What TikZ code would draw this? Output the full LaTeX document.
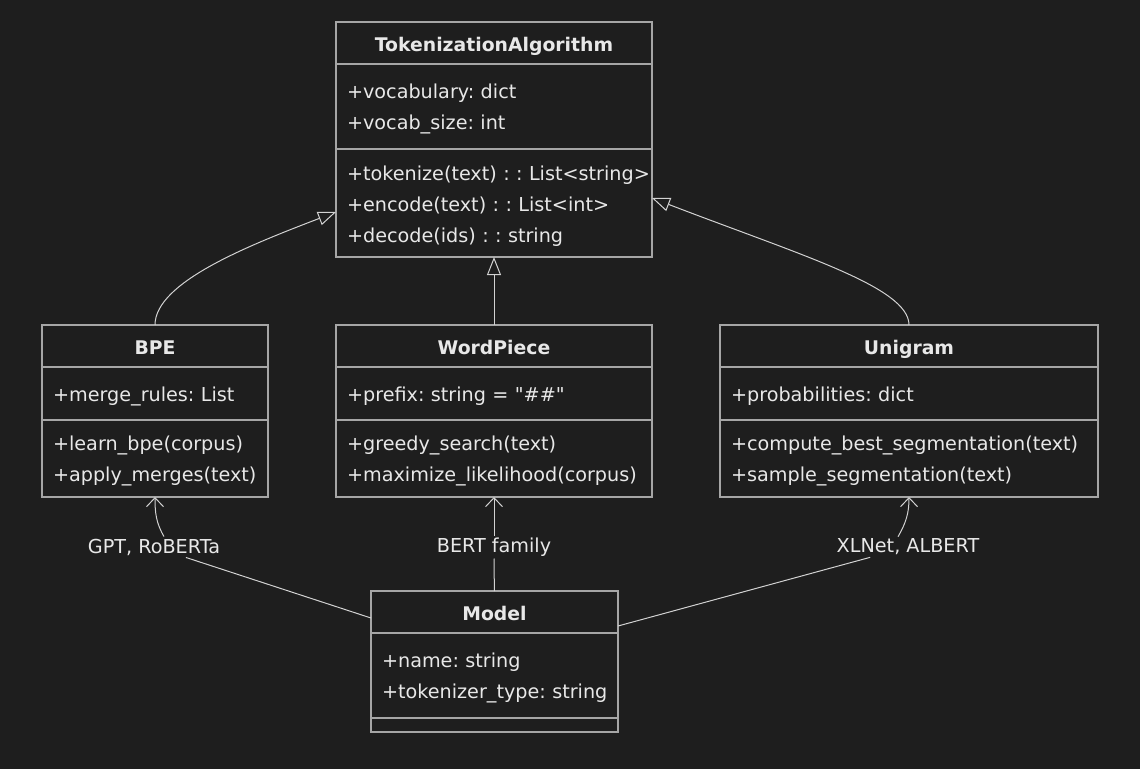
\documentclass[tikz,border=0pt]{standalone}
\usepackage{fontspec}
\setmainfont{DejaVu Sans}
\usepackage{tikz}
\usetikzlibrary{positioning,arrows.meta}
\definecolor{fondo}{HTML}{1E1E1E}
\definecolor{borde}{HTML}{A6A6A6}
\definecolor{linea}{HTML}{D2D2D2}
\definecolor{texto}{HTML}{E8E8E8}

\begin{document}
\begin{tikzpicture}[
    x=1pt, y=-1pt,
    font=\fontsize{19.2}{31}\selectfont\frenchspacing,
    header/.style={draw=borde, line width=1.4pt, fill=fondo, text=texto, outer sep=0pt, inner sep=0pt, minimum height=42pt, minimum width=#1, text height=16pt, text depth=0pt, font=\fontsize{18.8}{31}\selectfont\bfseries},
    members/.style={draw=borde, line width=1.4pt, fill=fondo, text=texto, outer sep=0pt, inner sep=0pt, text width=#1, text height=20pt, align=left, execute at begin node={\leftskip=11pt\relax}},
    tag/.style={fill=fondo, text=texto, inner sep=2pt},
    inherit/.style={-{Triangle[length=18pt, width=14pt, fill=fondo]}, draw=linea, line width=1pt},
    assoc/.style={-{Straight Barb[length=9pt, width=17pt]}, draw=linea, line width=1pt},
    link/.style={draw=linea, line width=1pt},
]
    \fill[fondo] (0,0) rectangle (1140,769);
    \useasboundingbox (0,0) rectangle (1140,769);

    \node[header=316pt] (ta) at (494,43) {TokenizationAlgorithm};
    \node[members=316pt, minimum height=85pt, below=0pt of ta] (ta-a) {+vocabulary: dict\\+vocab\_size: int};
    \node[members=316pt, minimum height=108pt, below=0pt of ta-a] (ta-m) {+tokenize(text)~:~:~List<string>\\+encode(text) : : List<int>\\+decode(ids) : : string};

    \node[header=226pt] (bpe) at (155,346) {BPE};
    \node[members=226pt, minimum height=53pt, below=0pt of bpe] (bpe-a) {+merge\_rules: List};
    \node[members=226pt, minimum height=77pt, below=0pt of bpe-a] (bpe-m) {+learn\_bpe(corpus)\\+apply\_merges(text)};

    \node[header=316pt] (wp) at (494,346) {WordPiece};
    \node[members=316pt, minimum height=53pt, below=0pt of wp] (wp-a) {+prefix: string = \textquotedbl\#\#\textquotedbl};
    \node[members=316pt, minimum height=77pt, below=0pt of wp-a] (wp-m) {+greedy\_search(text)\\+maximize\_likelihood(corpus)};

    \node[header=378pt] (uni) at (909,346) {Unigram};
    \node[members=378pt, minimum height=53pt, below=0pt of uni] (uni-a) {+probabilities: dict};
    \node[members=378pt, minimum height=77pt, below=0pt of uni-a] (uni-m) {+compute\_best\_segmentation(text)\\+sample\_segmentation(text)};

    \node[header=247pt] (model) at (494.5,612) {Model};
    \node[members=247pt, minimum height=85pt, below=0pt of model] (model-a) {+name: string\\+tokenizer\_type: string};
    \node[members=247pt, minimum height=14pt, text height=0pt, below=0pt of model-a] (model-m) {};

    \node[tag] (gpt) at (154,547) {GPT, RoBERTa};
    \node[tag] (bert) at (494,547) {BERT family};
    \node[tag] (xl) at (908,547) {XLNet, ALBERT};

    \draw[inherit] (wp.north) -- (ta-m.south);
    \draw[inherit] (bpe.north) .. controls (155,282) and (250,245) .. ([yshift=-9pt]ta-m.west);
    \draw[inherit] (uni.north) .. controls (909,287) and (800,255) .. ([yshift=5pt]ta-m.east);

    \draw[link] ([yshift=-6pt]model.west) -- (gpt);
    \draw[assoc] ([xshift=10pt]gpt.north) to[out=120, in=-90] (bpe-m.south);
    \draw[link] (model) -- (bert);
    \draw[assoc] (bert) -- (wp-m);
    \draw[link] ([yshift=-14pt]model.east) -- (xl);
    \draw[assoc] ([xshift=-10pt]xl.north) to[out=60, in=-90] (uni-m.south);
\end{tikzpicture}
\end{document}
